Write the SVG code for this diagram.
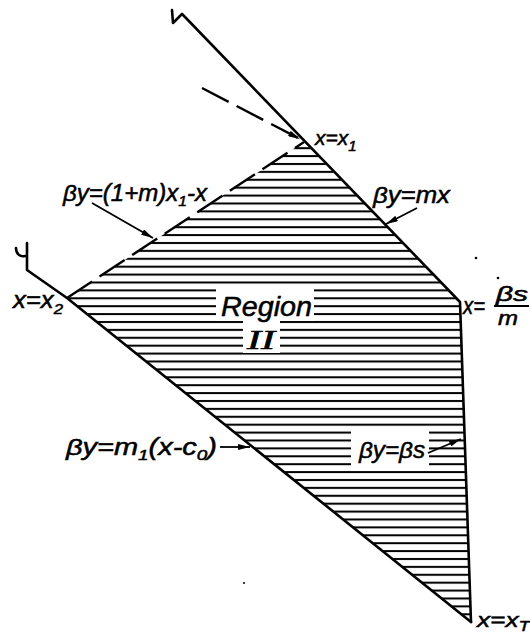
<svg xmlns="http://www.w3.org/2000/svg" width="530" height="633" viewBox="0 0 530 633">
<style>
.edge{fill:none;stroke:#000;stroke-width:2.6;stroke-linecap:round;stroke-linejoin:round}
.dash{fill:none;stroke:#000;stroke-width:2.4;stroke-dasharray:30 9}
.lead{fill:none;stroke:#000;stroke-width:1.8}
.lbl{font-family:"Liberation Sans",Arial,sans-serif;font-style:italic;font-size:23px;fill:#000;stroke:#000;stroke-width:0.5}
.sub{font-size:15px}
.wh{fill:#fff}
</style>
<defs>
<pattern id="hatch" patternUnits="userSpaceOnUse" x="0" y="2" width="20" height="7.9">
<rect x="0" y="3" width="20" height="2" fill="#000"/>
</pattern>
<marker id="ah" viewBox="0 0 12 6" refX="12" refY="3" markerWidth="12" markerHeight="6" markerUnits="userSpaceOnUse" orient="auto">
<path d="M0,0 L12,3 L0,6 z" fill="#000"/>
</marker>
</defs>
<rect width="530" height="633" fill="#fff"/>

<g id="region">
<polygon points="67,298 304,142 460,302 471,622" fill="url(#hatch)"/>
<rect class="wh" x="216" y="289" width="98" height="32"/>
<rect class="wh" x="243" y="320" width="37" height="33"/>
<rect class="wh" x="351" y="431" width="78" height="38"/>
<text class="lbl" x="221" y="316" style="font-size:27px" textLength="91" lengthAdjust="spacingAndGlyphs">Region</text>
<text x="247" y="349" style="font-family:'Liberation Serif',serif;font-style:italic;font-size:27px;stroke:#000;stroke-width:0.6" textLength="28" lengthAdjust="spacingAndGlyphs">II</text>
</g>

<g id="edges">
<path class="edge" d="M172,10 L173,23 L182,14 L185,17 L460,302 L471,622"/>
<path class="edge" d="M16,248 C16,254 20,257 25,256"/>
<path class="edge" d="M27,243 L27,270 L67,298 L471,622"/>
<path class="dash" d="M67,298 L304,142"/>
</g>

<g id="connectors">
<path class="dash" d="M202,88 L300,139" marker-end="url(#ah)"/>
<path class="lead" d="M92,203 L153,238" marker-end="url(#ah)"/>
<path class="lead" d="M417,208 L386,224" marker-end="url(#ah)"/>
<path class="lead" d="M220,447 L250,447" marker-end="url(#ah)"/>
<path class="lead" d="M428,453 L461,439" marker-end="url(#ah)"/>
</g>

<g id="labels">
<g id="lbl-x1"><text class="lbl" x="315" y="145" style="font-size:21px">x=x<tspan class="sub" dy="6">1</tspan></text></g>
<g id="lbl-mx"><text class="lbl" x="373" y="203" textLength="77" lengthAdjust="spacingAndGlyphs">βy=mx</text></g>
<g id="lbl-top"><text class="lbl" x="63" y="201" textLength="144" lengthAdjust="spacingAndGlyphs">βy=(1+m)x<tspan class="sub" dy="5">1</tspan><tspan dy="-5">-x</tspan></text></g>
<g id="lbl-x2"><text class="lbl" x="13" y="308" textLength="50" lengthAdjust="spacingAndGlyphs">x=x<tspan class="sub" dy="6">2</tspan></text></g>
<g id="lbl-bsm">
<text class="lbl" x="463" y="314" textLength="22" lengthAdjust="spacingAndGlyphs">x=</text>
<text class="lbl" x="496" y="301" style="font-size:20px" textLength="32" lengthAdjust="spacingAndGlyphs">βs</text>
<line x1="494" y1="306" x2="529" y2="306" stroke="#000" stroke-width="1.8"/>
<text class="lbl" x="498" y="325" style="font-size:20px" textLength="20" lengthAdjust="spacingAndGlyphs">m</text>
</g>
<g id="lbl-m1"><text class="lbl" x="66" y="455" textLength="151" lengthAdjust="spacingAndGlyphs">βy=m<tspan class="sub" dy="5">1</tspan><tspan dy="-5">(x-c</tspan><tspan class="sub" dy="5">0</tspan><tspan dy="-5">)</tspan></text></g>
<g id="lbl-bs"><text class="lbl" x="359" y="458" textLength="66" lengthAdjust="spacingAndGlyphs">βy=βs</text></g>
<g id="lbl-xT"><text class="lbl" x="477" y="627" style="font-size:21px" textLength="53" lengthAdjust="spacingAndGlyphs">x=x<tspan class="sub" dy="4">T</tspan></text></g>
</g>

<g id="specks" fill="#000">
<circle cx="476" cy="258" r="1.3"/>
<circle cx="498" cy="278" r="1.3"/>
<circle cx="244" cy="583" r="1"/>
</g>
</svg>
